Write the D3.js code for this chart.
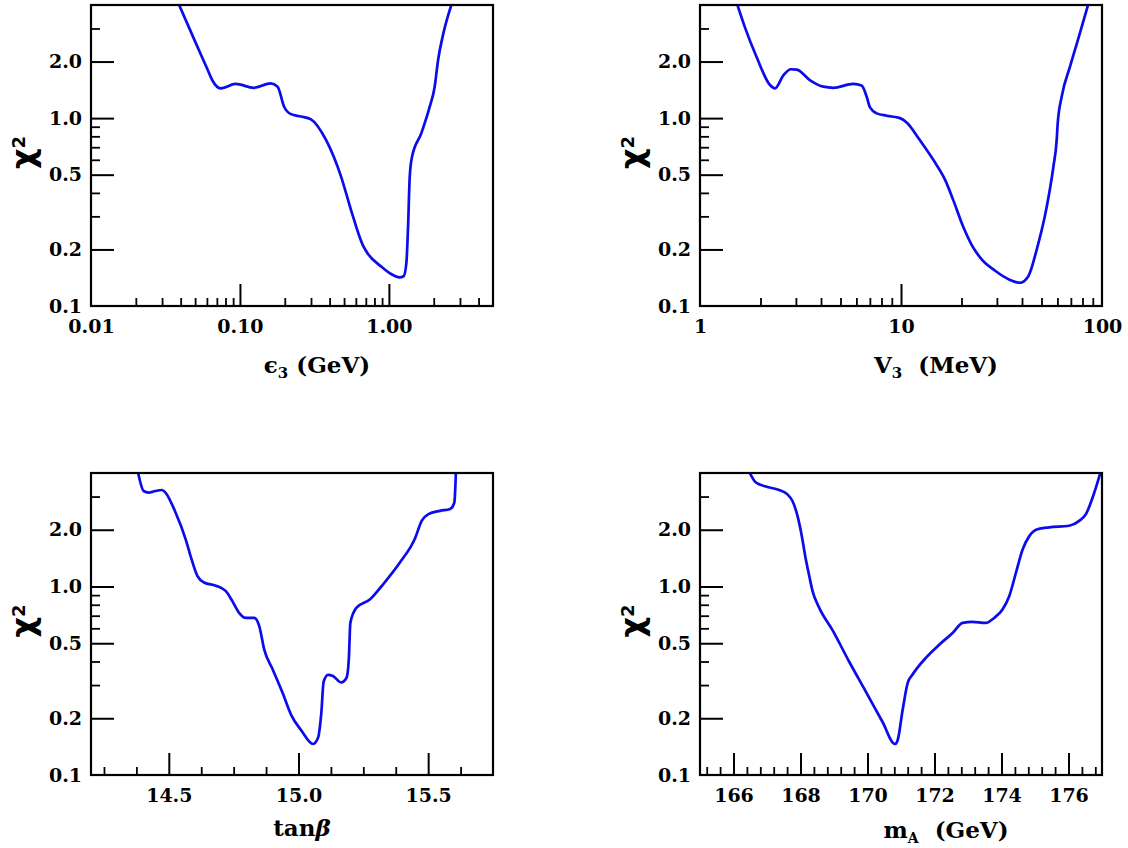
<!DOCTYPE html>
<html>
<head>
<meta charset="utf-8">
<script src="https://cdn.jsdelivr.net/npm/d3@7"></script>
<style>
  html, body { margin: 0; padding: 0; background: #fff; }
  svg { display: block; }
  text { white-space: pre; }
</style>
</head>
<body>
<svg id="chart" width="1128" height="848"></svg>
<script>
// ---------------- data ----------------
// Panel 1: chi^2 vs epsilon_3 (GeV), log x
const epsX = [0.0388, 0.0503, 0.0603, 0.0652, 0.0741, 0.0935, 0.124, 0.161, 0.179, 0.198, 0.22, 0.257, 0.30, 0.379, 0.478, 0.557, 0.668, 0.722, 0.889, 1.035, 1.18, 1.256, 1.31, 1.345, 1.38, 1.43, 1.65, 1.88, 2.03, 2.14, 2.32, 2.64];
const epsChi = [4.05, 2.53, 1.83, 1.59, 1.44, 1.52, 1.45, 1.53, 1.47, 1.15, 1.05, 1.02, 0.985, 0.763, 0.487, 0.324, 0.211, 0.19, 0.162, 0.148, 0.142, 0.144, 0.169, 0.264, 0.487, 0.622, 0.83, 1.15, 1.47, 2.04, 2.82, 4.05];

// Panel 2: chi^2 vs V_3 (MeV), log x
const v3X = [1.53, 1.67, 1.91, 2.23, 2.36, 2.60, 2.83, 3.03, 3.53, 4.11, 4.61, 5.79, 6.37, 6.75, 7.01, 7.57, 8.49, 9.89, 10.7, 12.4, 14.5, 16.6, 18.2, 20.4, 22.5, 25.2, 29.4, 34.2, 39.1, 43.0, 47.3, 53.1, 57.3, 59.5, 60.2, 63.0, 69.3, 76.3, 85.5];
const v3Chi = [4.05, 3.06, 2.12, 1.50, 1.44, 1.69, 1.82, 1.81, 1.59, 1.47, 1.45, 1.52, 1.49, 1.30, 1.14, 1.06, 1.03, 1.0, 0.945, 0.764, 0.598, 0.468, 0.366, 0.264, 0.211, 0.177, 0.154, 0.139, 0.133, 0.144, 0.199, 0.337, 0.551, 0.764, 0.937, 1.30, 1.88, 2.66, 4.05];

// Panel 3: chi^2 vs tan(beta), linear x
const tanbX = [14.381, 14.403, 14.422, 14.448, 14.474, 14.487, 14.526, 14.565, 14.584, 14.610, 14.636, 14.681, 14.720, 14.745, 14.771, 14.797, 14.829, 14.849, 14.868, 14.901, 14.939, 14.972, 15.010, 15.056, 15.075, 15.088, 15.097, 15.114, 15.133, 15.165, 15.185, 15.194, 15.200, 15.223, 15.275, 15.327, 15.391, 15.450, 15.475, 15.501, 15.546, 15.585, 15.601, 15.607];
const tanbChi = [4.05, 3.21, 3.15, 3.21, 3.25, 3.15, 2.47, 1.78, 1.45, 1.14, 1.05, 1.01, 0.945, 0.836, 0.724, 0.681, 0.681, 0.615, 0.462, 0.362, 0.272, 0.208, 0.173, 0.146, 0.157, 0.213, 0.313, 0.340, 0.335, 0.31, 0.327, 0.409, 0.641, 0.77, 0.853, 1.03, 1.34, 1.81, 2.23, 2.42, 2.52, 2.58, 2.79, 4.05];

// Panel 4: chi^2 vs m_A (GeV), linear x
const mAX = [166.47, 166.67, 166.97, 167.36, 167.61, 167.76, 167.91, 168.04, 168.16, 168.26, 168.36, 168.56, 168.96, 169.45, 169.95, 170.45, 170.82, 170.90, 171.05, 171.20, 171.34, 171.74, 172.14, 172.54, 172.84, 173.13, 173.53, 173.78, 174.03, 174.23, 174.43, 174.63, 174.83, 175.07, 175.42, 176.02, 176.32, 176.52, 176.77, 176.96];
const mAChi = [4.05, 3.56, 3.39, 3.25, 3.08, 2.84, 2.37, 1.85, 1.39, 1.14, 0.945, 0.77, 0.585, 0.40, 0.277, 0.191, 0.146, 0.153, 0.222, 0.308, 0.340, 0.418, 0.491, 0.567, 0.641, 0.649, 0.641, 0.681, 0.755, 0.888, 1.18, 1.57, 1.85, 2.01, 2.06, 2.10, 2.23, 2.42, 3.15, 4.05];

// tick values / labels
const yDomain = [0.1, 4];
const yMajorTicks = [0.2, 0.5, 1, 2];
const yMinorTicks = [0.3, 0.4, 0.6, 0.7, 0.8, 0.9, 3];
const yTickLabels = ["0.1", "0.2", "0.5", "1.0", "2.0"];
const yTickLabelValues = [0.1, 0.2, 0.5, 1, 2];

const epsDomain = [0.01, 5];
const epsMajorTicks = [0.1, 1];
const epsTickLabelValues = [0.01, 0.1, 1];
const epsTickLabels = ["0.01", "0.10", "1.00"];

const v3Domain = [1, 100];
const v3MajorTicks = [10];
const v3TickLabelValues = [1, 10, 100];
const v3TickLabels = ["1", "10", "100"];

const tanbDomain = [14.2, 15.75];
const tanbMajorTicks = [14.5, 15.0, 15.5];
const tanbTickLabels = ["14.5", "15.0", "15.5"];

const mADomain = [165, 177];
const mAMajorTicks = [166, 168, 170, 172, 174, 176];
const mATickLabels = ["166", "168", "170", "172", "174", "176"];

// ---------------- drawing ----------------
const svg = d3.select("#chart");
const FONT = "'DejaVu Serif', serif";
const LINE_COLOR = "#0b0bec";
const TICK_FS = 19;
const TITLE_FS = 23;

function logMinors(lo, hi) {
  const out = [];
  for (let d = Math.floor(Math.log10(lo)); d < Math.ceil(Math.log10(hi)); d++) {
    for (let k = 2; k <= 9; k++) {
      const v = k * Math.pow(10, d);
      if (v > lo * 1.0001 && v < hi * 0.9999) out.push(v);
    }
  }
  return out;
}

const panels = [
  { id: "p1", x0: 91, x1: 493, y0: 5, y1: 306, xType: "log", xDomain: epsDomain,
    xs: epsX, ys: epsChi, xMajor: epsMajorTicks, xMinor: logMinors(0.01, 5),
    xLabVals: epsTickLabelValues, xLabs: epsTickLabels,
    xTitle: [["ϵ", TITLE_FS, 0], ["3", 15, 5], ["\u00a0(GeV)", TITLE_FS, -5]], xTitleX: 317, xTitleY: 373 },
  { id: "p2", x0: 700, x1: 1102, y0: 5, y1: 306, xType: "log", xDomain: v3Domain,
    xs: v3X, ys: v3Chi, xMajor: v3MajorTicks, xMinor: logMinors(1, 100),
    xLabVals: v3TickLabelValues, xLabs: v3TickLabels,
    xTitle: [["V", TITLE_FS, 0], ["3", 15, 5], ["\u00a0\u00a0(MeV)", TITLE_FS, -5]], xTitleX: 936, xTitleY: 373 },
  { id: "p3", x0: 91, x1: 493, y0: 473, y1: 775, xType: "linear", xDomain: tanbDomain,
    xs: tanbX, ys: tanbChi, xMajor: tanbMajorTicks,
    xMinor: d3.range(14.25, 15.75, 0.125).filter(v => !tanbMajorTicks.some(m => Math.abs(m - v) < 1e-6)),
    xLabVals: tanbMajorTicks, xLabs: tanbTickLabels,
    xTitle: [["tan", TITLE_FS, 0], ["β", TITLE_FS, 0, "italic"]], xTitleX: 302, xTitleY: 836 },
  { id: "p4", x0: 700, x1: 1102, y0: 473, y1: 775, xType: "linear", xDomain: mADomain,
    xs: mAX, ys: mAChi, xMajor: mAMajorTicks,
    xMinor: d3.range(165.2, 177, 0.4).filter(v => !mAMajorTicks.some(m => Math.abs(m - v) < 1e-6)),
    xLabVals: mAMajorTicks, xLabs: mATickLabels,
    xTitle: [["m", TITLE_FS, 0], ["A", 14, 5], ["\u00a0\u00a0(GeV)", TITLE_FS, -5]], xTitleX: 946, xTitleY: 838 }
];

panels.forEach(p => {
  const W = p.x1 - p.x0, H = p.y1 - p.y0;
  const g = svg.append("g").attr("transform", `translate(${p.x0},${p.y0})`);
  const x = (p.xType === "log" ? d3.scaleLog() : d3.scaleLinear()).domain(p.xDomain).range([0, W]);
  const y = d3.scaleLog().domain(yDomain).range([H, 0]);

  svg.append("defs").append("clipPath").attr("id", "clip-" + p.id)
    .append("rect").attr("x", 0).attr("y", 0).attr("width", W).attr("height", H);

  const data = p.xs.map((v, i) => [v, p.ys[i]]);
  const line = d3.line().x(d => x(d[0])).y(d => y(d[1])).curve(d3.curveMonotoneX);
  g.append("path").datum(data)
    .attr("clip-path", `url(#clip-${p.id})`)
    .attr("d", line)
    .attr("fill", "none")
    .attr("stroke", LINE_COLOR)
    .attr("stroke-width", 2.7)
    .attr("stroke-linejoin", "round");

  function styleAxis(sel, sw) {
    sel.select(".domain").remove();
    sel.selectAll(".tick line").attr("stroke", "#000").attr("stroke-width", sw);
  }

  g.append("g").attr("transform", `translate(0,${H})`)
    .call(d3.axisBottom(x).tickValues(p.xMinor).tickSize(-8).tickFormat(""))
    .call(s => styleAxis(s, 1.8));
  g.append("g").attr("transform", `translate(0,${H})`)
    .call(d3.axisBottom(x).tickValues(p.xMajor).tickSize(-22).tickFormat(""))
    .call(s => styleAxis(s, 2));
  const xl = g.append("g").attr("transform", `translate(0,${H})`)
    .call(d3.axisBottom(x).tickValues(p.xLabVals).tickSize(0).tickPadding(14)
      .tickFormat((d, i) => p.xLabs[i]));
  xl.select(".domain").remove();
  xl.selectAll("text").attr("font-family", FONT).attr("font-weight", "bold")
    .attr("font-size", TICK_FS).attr("fill", "#000");

  g.append("g")
    .call(d3.axisLeft(y).tickValues(yMinorTicks).tickSize(-9).tickFormat(""))
    .call(s => styleAxis(s, 1.8));
  g.append("g")
    .call(d3.axisLeft(y).tickValues(yMajorTicks).tickSize(-23).tickFormat(""))
    .call(s => styleAxis(s, 2));
  const yl = g.append("g")
    .call(d3.axisLeft(y).tickValues(yTickLabelValues).tickSize(0).tickPadding(9)
      .tickFormat((d, i) => yTickLabels[i]));
  yl.select(".domain").remove();
  yl.selectAll("text").attr("font-family", FONT).attr("font-weight", "bold")
    .attr("font-size", TICK_FS).attr("fill", "#000");

  g.append("rect").attr("x", 0).attr("y", 0).attr("width", W).attr("height", H)
    .attr("fill", "none").attr("stroke", "#000").attr("stroke-width", 2.2);

  // y title chi^2
  const yt = svg.append("text")
    .attr("transform", `translate(${p.x0 - 57},${p.y0 + H / 2 - 3}) rotate(-90)`)
    .attr("text-anchor", "middle")
    .attr("font-family", "'DejaVu Sans', sans-serif").attr("font-weight", "bold").attr("fill", "#000");
  yt.append("tspan").attr("font-size", 32).text("χ");
  yt.append("tspan").attr("font-size", 18).attr("dy", -9).text("2");

  // x title
  const xt = svg.append("text")
    .attr("x", p.xTitleX).attr("y", p.xTitleY)
    .attr("text-anchor", "middle")
    .attr("font-family", FONT).attr("font-weight", "bold").attr("fill", "#000");
  p.xTitle.forEach(([t, fs, dy, st]) => {
    const ts = xt.append("tspan").attr("font-size", fs).attr("dy", dy).text(t);
    if (st) ts.attr("font-style", st);
  });
});
</script>
</body>
</html>
